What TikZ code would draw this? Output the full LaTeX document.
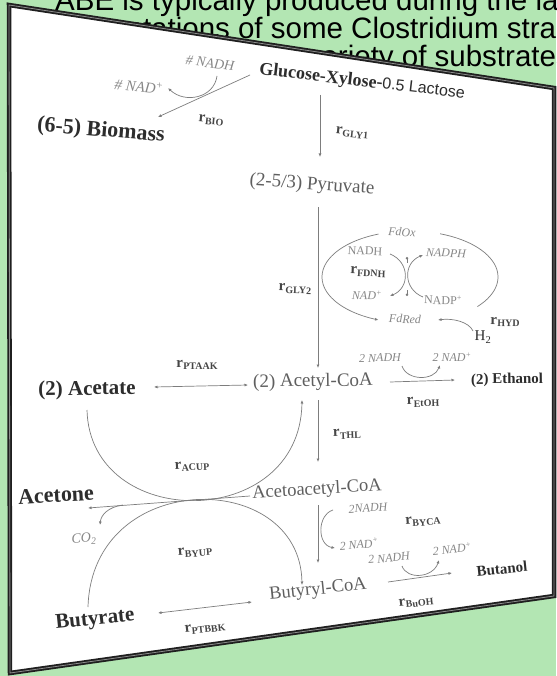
\documentclass[tikz,border=0pt]{standalone}
\usepackage{fontspec}
\setmainfont{Liberation Serif}
\newfontfamily\arialf{Liberation Sans}
\usetikzlibrary{arrows.meta}
\definecolor{bg}{RGB}{179,230,179}
\definecolor{metc}{RGB}{95,95,95}
\definecolor{cofc}{RGB}{135,135,135}
\definecolor{prodc}{RGB}{45,45,45}
\definecolor{ratec}{RGB}{70,70,70}
\definecolor{linkc}{RGB}{125,125,125}
\newcommand\fsz[1]{\fontsize{#1}{#1}\selectfont}
\newcommand\rt[1]{\textbf{r}\kern0.2pt\raisebox{-2.6pt}{\fontsize{10}{10}\selectfont\bfseries #1}}
\begin{document}
\begin{tikzpicture}[x=1pt,y=-1pt,
  tilt/.style 2 args={rotate={-0.85*atan((350-(#2))/(2300-(#1)))}},
  metab/.style={text=metc, inner sep=0pt, font=\fsz{19}},
  prodn/.style={text=prodc, inner sep=0pt, font=\fsz{21}\bfseries},
  cofac/.style={text=cofc, inner sep=0pt, font=\fsz{12}\itshape},
  ratel/.style={text=ratec, inner sep=0pt, font=\fsz{15}},
  topline/.style={inner sep=0pt, font=\arialf\fsz{29.5}, text=black},
  link/.style={draw=linkc, line width=0.7pt},
  arr/.style={link, -{Latex[length=3.5pt,width=3pt]}},
  darr/.style={link, {Latex[length=3.5pt,width=3pt]}-{Latex[length=3.5pt,width=3pt]}},
]
\useasboundingbox (0,0) rectangle (556,676);
\fill[bg] (0,0) rectangle (556,676);
% caption text behind the sheet
\node[topline, anchor=base west] (t1) at (55,11) {ABE is typically produced during the late};
\node[topline, anchor=base west] (t2) at (51,39) {fermentations of some Clostridium strains};
\node[topline, anchor=base east] (t3) at (571,67) {variety of substrates};
% sheet
\coordinate (TL) at (9,5);
\coordinate (TR) at (554,88);
\coordinate (BR) at (554,596);
\coordinate (BL) at (10,673);
\fill[white] (TL) -- (TR) -- (BR) -- (BL) -- cycle;
\draw[line width=4.5pt, black!88, line join=miter] (TL) -- (TR) -- (BR) -- (BL) -- cycle;
\draw[line width=0.8pt, black!45] (TL) -- (TR) -- (BR) -- (BL) -- cycle;

% nodes
\node[prodn, font=\fsz{18}, tilt={362}{82}] (glc) at (362,82) {\textbf{Glucose-Xylose-}{\arialf\fsz{16}\mdseries 0.5 Lactose}};
\node[prodn, font=\fsz{22}\bfseries, tilt={101}{131}] (bio) at (101,131) {(6-5) Biomass};
\node[cofac, font=\fsz{14}\itshape, tilt={210}{63}] (nadh0) at (210,63) {\# NADH};
\node[cofac, font=\fsz{15}\itshape, tilt={139}{86}] (nad0) at (139,86) {\# NAD\textsuperscript{+}};
\node[ratel, tilt={211}{120}] (rbio) at (211,120) {\rt{BIO}};
\node[ratel, tilt={352}{133}] (rgly1) at (352,133) {\rt{GLY1}};
\node[metab, tilt={312}{185}] (pyr) at (312,185) {(2-5/3) Pyruvate};
\node[cofac, tilt={402}{232}] (fdox) at (402,232) {FdOx};
\node[cofac, font=\fsz{12}, tilt={365}{251}] (nadh1) at (365,251) {NADH};
\node[cofac, tilt={446}{253}] (nadph) at (446,253) {NADPH};
\node[ratel, tilt={368}{272}] (rfdnh) at (368,272) {\rt{FDNH}};
\node[cofac, tilt={367}{295}] (nad1) at (367,295) {NAD\textsuperscript{+}};
\node[cofac, font=\fsz{12}, tilt={443}{300}] (nadp) at (443,300) {NADP\textsuperscript{+}};
\node[cofac, tilt={405}{319}] (fdred) at (405,319) {FdRed};
\node[ratel, tilt={505}{322}] (rhyd) at (505,322) {\rt{HYD}};
\node[prodn, font=\fsz{15}, tilt={483}{337}] (h2) at (483,337) {H\textsubscript{2}};
\node[ratel, tilt={295}{289}] (rgly2) at (295,289) {\rt{GLY2}};
\node[cofac, tilt={380}{358}] (nadh2) at (380,358) {2 NADH};
\node[cofac, tilt={452}{357}] (nad2) at (452,357) {2 NAD\textsuperscript{+}};
\node[metab, tilt={313}{382}] (acoa) at (313,382) {(2) Acetyl-CoA};
\node[prodn, font=\fsz{15}\bfseries, tilt={507}{380}] (etoh) at (507,380) {(2) Ethanol};
\node[ratel, tilt={423}{402}] (retoh) at (423,402) {\rt{EtOH}};
\node[ratel, tilt={347}{434}] (rthl) at (347,434) {\rt{THL}};
\node[prodn, tilt={87}{390}] (acet) at (87,390) {(2) Acetate};
\node[ratel, tilt={197}{365}] (rptaak) at (197,365) {\rt{PTAAK}};
\node[metab, font=\fsz{18.5}, tilt={317}{490}] (aacoa) at (317,490) {Acetoacetyl-CoA};
\node[prodn, font=\fsz{22}\bfseries, tilt={56}{495}] (acetone) at (56,495) {Acetone};
\node[cofac, font=\fsz{14}\itshape, tilt={84}{539}] (co2) at (84,539) {CO\textsubscript{2}};
\node[ratel, tilt={192}{466}] (racup) at (192,466) {\rt{ACUP}};
\node[ratel, tilt={195}{552}] (rbyup) at (195,552) {\rt{BYUP}};
\node[cofac, tilt={368}{508}] (nadh3) at (368,508) {2NADH};
\node[cofac, tilt={359}{544}] (nad3) at (359,544) {2 NAD\textsuperscript{+}};
\node[cofac, tilt={389}{558}] (nadh4) at (389,558) {2 NADH};
\node[ratel, tilt={423}{521}] (rbyca) at (423,521) {\rt{BYCA}};
\node[cofac, tilt={452}{549}] (nad4) at (452,549) {2 NAD\textsuperscript{+}};
\node[metab, font=\fsz{18.5}, tilt={318}{590}] (bcoa) at (318,590) {Butyryl-CoA};
\node[prodn, font=\fsz{15}\bfseries, tilt={502}{569}] (buoh) at (502,569) {Butanol};
\node[ratel, tilt={416}{602}] (rbuoh) at (416,602) {\rt{BuOH}};
\node[prodn, tilt={95}{620}] (butyr) at (95,620) {Butyrate};
\node[ratel, tilt={205}{628}] (rptbbk) at (205,628) {\rt{PTBBK}};

% connector end points
\coordinate (g1) at (250,75);   \coordinate (b1) at (158,117);
\coordinate (n0a) at (217,76);  \coordinate (n0b) at (168,88);
\coordinate (g2) at (320,95);   \coordinate (p1) at (320,157);
\coordinate (p2) at (318,207);  \coordinate (a1) at (318,368);
\coordinate (fdn1) at (390,254); \coordinate (fdn2) at (390,296);
\coordinate (fdp1) at (423,297); \coordinate (fdp2) at (423,255);
\coordinate (h2a) at (473,331); \coordinate (fdr) at (438,320);
\coordinate (e1) at (402,366);  \coordinate (e2) at (440,365);
\coordinate (a2) at (390,382);  \coordinate (e3) at (455,380);
\coordinate (ac1) at (154,387); \coordinate (ac2) at (248,385);
\coordinate (a3) at (318,400);  \coordinate (aa1) at (318,462);
\coordinate (ac3) at (87,410);  \coordinate (a4) at (302,400);
\coordinate (bt1) at (88,607);  \coordinate (bc1) at (302,585);
\coordinate (aa2) at (250,496); \coordinate (at1) at (88,508);
\coordinate (cb) at (123,505);  \coordinate (c1) at (100,525);
\coordinate (aa3) at (318,505); \coordinate (bc2) at (318,563);
\coordinate (y1) at (333,510);  \coordinate (y2) at (335,548);
\coordinate (u1) at (402,566);  \coordinate (u2) at (439,560);
\coordinate (bc3) at (388,582); \coordinate (bu1) at (452,573);
\coordinate (bt2) at (158,613); \coordinate (bc4) at (252,602);

% connectors
\draw[arr] (g1) -- (b1);
\draw[arr] (n0a) .. controls (214,98) and (185,104) .. (n0b);
\draw[arr] (g2) -- (p1);
\draw[arr] (p2) -- (a1);
\draw[arr] plot[domain=111:249, samples=40, smooth] ({410+88*cos(\x)},{277-46*sin(\x)});
\draw[link] plot[domain=70:-40, samples=30, smooth] ({410+88*cos(\x)},{277-46*sin(\x)});
\draw[arr] (fdn1) .. controls (410,262) and (410,288) .. (fdn2);
\draw[arr] (fdp1) .. controls (403,289) and (403,263) .. (fdp2);
\draw[link, {Circle[length=2.5pt]}-] (407,257) -- (407,263);
\draw[link, {Circle[length=2.5pt]}-] (407,296) -- (407,290);
\draw[arr] (h2a) .. controls (469,322) and (453,318) .. (fdr);
\draw[arr] (e1) .. controls (407,381) and (434,381) .. (e2);
\draw[arr] (a2) -- (e3);
\draw[darr] (ac1) -- (ac2);
\draw[arr] (a3) -- (aa1);
\draw[arr] (ac3) .. controls (90,532) and (300,532) .. (a4);
\draw[arr] (bt1) .. controls (92,468) and (300,468) .. (bc1);
\draw[arr] (aa2) -- (at1);
\draw[arr] (cb) .. controls (108,507) and (101,515) .. (c1);
\draw[arr] (aa3) -- (bc2);
\draw[arr] (y1) .. controls (317,515) and (317,545) .. (y2);
\draw[arr] (u1) .. controls (407,580) and (433,578) .. (u2);
\draw[arr] (bc3) -- (bu1);
\draw[darr] (bt2) -- (bc4);
\end{tikzpicture}
\end{document}
